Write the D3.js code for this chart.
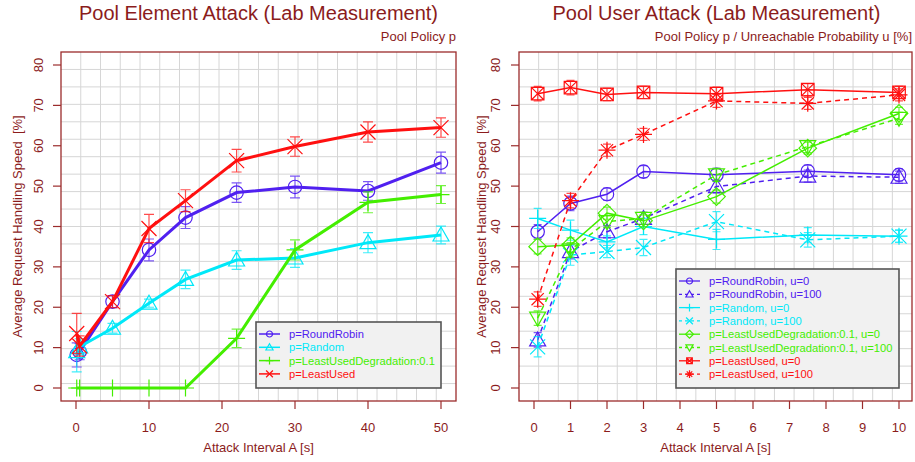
<!DOCTYPE html>
<html lang="en">
<head>
<meta charset="UTF-8">
<title>Pool Attack (Lab Measurement)</title>
<script src="https://d3js.org/d3.v7.min.js"></script>
<style>
  body { margin: 0; background: #fff; }
  svg text { font-family: "Liberation Sans", Arial, sans-serif; fill: #8b1c1c; }
  .title { font-size: 20px; text-anchor: middle; }
  .subtitle { font-size: 13px; text-anchor: end; }
  .tick-label { font-size: 13px; text-anchor: middle; }
  .axis-title { font-size: 13px; text-anchor: middle; }
  .legend text { font-size: 11.2px; }
</style>
</head>
<body>
<svg width="915" height="462"></svg>
<script>
// ---- data: left panel (pool element attack) ----
const elemX = [0.1, 0.5, 5, 10, 15, 22, 30, 40, 50];
const elemRoundRobin = [8.2, 9.0, 21.4, 34.2, 42.2, 48.4, 49.8, 48.8, 55.8];
const elemRoundRobinErr = [3, 2, 1.5, 2.7, 2.7, 2.4, 2.7, 2.3, 2.6];
const elemRandom = [9.0, 10.2, 14.8, 21.0, 26.9, 31.7, 32.2, 36.0, 37.9];
const elemRandomErr = [5, 2, 1.2, 1.0, 2.3, 2.3, 2.3, 2.5, 2.2];
const elemLeastUsedDeg = [0, 0, 0, 0, 0, 12.3, 34.2, 46.0, 47.9];
const elemLeastUsedDegErr = [0, 0, 0, 0, 0, 2.3, 2.5, 2.6, 2.2];
const elemLeastUsed = [13.5, 10.4, 21.4, 39.5, 46.4, 56.3, 59.8, 63.4, 64.5];
const elemLeastUsedErr = [5, 2.5, 1.5, 3.5, 2.7, 2.8, 2.4, 2.5, 2.4];
const elemXTicks = [0, 10, 20, 30, 40, 50];

// ---- data: right panel (pool user attack) ----
const userX = [0.1, 1, 2, 3, 5, 7.5, 10];
const userRR0 = [38.7, 45.7, 48.0, 53.6, 52.8, 53.7, 52.8];
const userRR100 = [11.9, 33.8, 38.7, 42.0, 49.9, 52.5, 52.2];
const userRand0 = [42.0, 39.1, 36.2, 40.0, 36.8, 37.9, 37.6];
const userRand100 = [10.2, 32.9, 33.8, 34.8, 41.2, 36.7, 37.6];
const userLUD0 = [35.0, 35.4, 43.3, 41.4, 47.4, 59.4, 68.0];
const userLUD100 = [17.3, 34.2, 41.2, 42.0, 52.8, 59.8, 66.8];
const userLU0 = [72.9, 74.4, 72.7, 73.2, 72.9, 73.9, 73.2];
const userLU100 = [22.0, 46.4, 58.9, 62.8, 71.1, 70.5, 72.6];
const userErr = [1.8, 1.8, 1.5, 1.5, 1.6, 1.5, 1.5];
const userRandErr = [2.5, 2.5, 1.5, 2.0, 2.5, 1.8, 1.5];
const userXTicks = [0, 1, 2, 3, 4, 5, 6, 7, 8, 9, 10];

const yTicks = [0, 10, 20, 30, 40, 50, 60, 70, 80];

const blue = "#5020f0", cyan = "#00e8f8", green = "#44ee00", red = "#ff1010";
const textColor = "#8b1c1c", boxColor = "#9b2c2c";

const svg = d3.select("svg");

// marker shapes drawn as stroked paths (R pch style), k = scale factor
function markerPath(type, k) {
  const r = 6.7 * k, p = 8.5 * k, x = 7.5 * k, t = 8 * k, q = 6.3 * k, d = 8.8 * k;
  switch (type) {
    case "circle": return `M${-r},0A${r},${r} 0 1,0 ${r},0A${r},${r} 0 1,0 ${-r},0`;
    case "triangle": return `M0,${-t}L${t},${t * 0.75}L${-t},${t * 0.75}Z`;
    case "triangleDown": return `M0,${t}L${t},${-t * 0.75}L${-t},${-t * 0.75}Z`;
    case "plus": return `M${-p},0H${p}M0,${-p}V${p}`;
    case "cross": return `M${-x},${-x}L${x},${x}M${-x},${x}L${x},${-x}`;
    case "diamond": return `M0,${-d}L${d},0L0,${d}L${-d},0Z`;
    case "squareX": return `M${-q},${-q}H${q}V${q}H${-q}ZM${-q},${-q}L${q},${q}M${-q},${q}L${q},${-q}`;
    case "asterisk": {
      const c = p * 0.72;
      return `M${-p},0H${p}M0,${-p}V${p}M${-c},${-c}L${c},${c}M${-c},${c}L${c},${-c}`;
    }
  }
}

function drawPanel(p) {
  const x = d3.scaleLinear().domain(p.xDomain).range(p.xRange);
  const y = d3.scaleLinear().domain([0, 80]).range([388, 65]);
  const g = svg.append("g");
  const [bx0, bx1] = p.box, by0 = 52, by1 = 401;

  // grid: 20 divisions each way
  const gx = d3.range(1, 20).map(i => bx0 + (bx1 - bx0) * i / 20);
  const gy = d3.range(1, 20).map(i => by0 + (by1 - by0) * i / 20);
  g.selectAll(".gx").data(gx).enter().append("line")
    .attr("x1", d => d).attr("x2", d => d).attr("y1", by0).attr("y2", by1)
    .attr("stroke", "#d6d6d6").attr("stroke-width", 1);
  g.selectAll(".gy").data(gy).enter().append("line")
    .attr("x1", bx0).attr("x2", bx1).attr("y1", d => d).attr("y2", d => d)
    .attr("stroke", "#d6d6d6").attr("stroke-width", 1);

  // axes ticks and labels
  g.selectAll(".xt").data(p.xTicks).enter().append("line")
    .attr("x1", d => x(d)).attr("x2", d => x(d)).attr("y1", by1).attr("y2", by1 + 8)
    .attr("stroke", boxColor).attr("stroke-width", 1.2);
  g.selectAll(".xl").data(p.xTicks).enter().append("text")
    .attr("class", "tick-label").attr("x", d => x(d)).attr("y", 432).text(d => d);
  g.selectAll(".yt").data(yTicks).enter().append("line")
    .attr("x1", bx0 - 8).attr("x2", bx0).attr("y1", d => y(d)).attr("y2", d => y(d))
    .attr("stroke", boxColor).attr("stroke-width", 1.2);
  g.selectAll(".yl").data(yTicks).enter().append("text")
    .attr("class", "tick-label")
    .attr("transform", d => `translate(${p.yLabelX},${y(d)}) rotate(-90)`)
    .text(d => d);

  g.append("text").attr("class", "axis-title")
    .attr("x", (bx0 + bx1) / 2).attr("y", 452).text("Attack Interval A [s]");
  g.append("text").attr("class", "axis-title")
    .attr("transform", `translate(${p.yTitleX},${(by0 + by1) / 2}) rotate(-90)`)
    .attr("xml:space", "preserve")
    .text("Average Request Handling Speed  [%]");

  g.append("text").attr("class", "title")
    .attr("x", p.titleX).attr("y", 19.5).text(p.title);
  g.append("text").attr("class", "subtitle")
    .attr("x", bx1).attr("y", 41).text(p.subtitle);

  // series
  const line = d3.line().x(d => x(d[0])).y(d => y(d[1]));
  p.series.forEach(s => {
    const pts = p.xs.map((v, i) => [v, s.values[i], s.err[i]]);
    const sg = g.append("g");
    // error bars
    const cap = p.cap;
    pts.filter(d => d[2] > 0).forEach(d => {
      const xx = x(d[0]), lo = y(d[1] - d[2]), hi = y(d[1] + d[2]);
      sg.append("path")
        .attr("d", `M${xx},${lo}V${hi}M${xx - cap},${lo}H${xx + cap}M${xx - cap},${hi}H${xx + cap}`)
        .attr("fill", "none").attr("stroke", s.color).attr("stroke-width", 1.2)
        .attr("opacity", 0.75);
    });
    sg.append("path").datum(pts).attr("d", line)
      .attr("fill", "none").attr("stroke", s.color).attr("stroke-width", p.lineWidth)
      .attr("stroke-dasharray", s.dash ? "5,4" : null);
    sg.selectAll(".m").data(pts).enter().append("path")
      .attr("transform", d => `translate(${x(d[0])},${y(d[1])})`)
      .attr("d", markerPath(s.marker, 1))
      .attr("fill", "none").attr("stroke", s.color).attr("stroke-width", 1.2);
  });

  // box
  g.append("rect").attr("x", bx0).attr("y", by0)
    .attr("width", bx1 - bx0).attr("height", by1 - by0)
    .attr("fill", "none").attr("stroke", boxColor).attr("stroke-width", 1.3);

  // legend
  const L = p.legend;
  const lg = g.append("g").attr("class", "legend");
  lg.append("rect").attr("x", L.x0).attr("y", L.y0)
    .attr("width", L.x1 - L.x0).attr("height", L.y1 - L.y0)
    .attr("fill", "#f1f1f1").attr("stroke", "#555").attr("stroke-width", 1.6);
  p.series.forEach((s, i) => {
    const yy = L.first + i * L.step;
    lg.append("line").attr("x1", L.x0 + 3).attr("x2", L.x0 + 24)
      .attr("y1", yy).attr("y2", yy)
      .attr("stroke", s.color).attr("stroke-width", p.legendLineWidth)
      .attr("stroke-dasharray", s.dash ? "3,3" : null);
    lg.append("path").attr("transform", `translate(${L.x0 + 13.5},${yy})`)
      .attr("d", markerPath(s.marker, 0.45))
      .attr("fill", "none").attr("stroke", s.color).attr("stroke-width", 1.2);
    lg.append("text").attr("x", L.x0 + 33).attr("y", yy + 4)
      .style("fill", s.color).text(s.name);
  });
}

drawPanel({
  title: "Pool Element Attack (Lab Measurement)",
  subtitle: "Pool Policy p",
  titleX: 258.5,
  xDomain: [0, 50], xRange: [76, 441], box: [61, 456],
  xTicks: elemXTicks, xs: elemX,
  yLabelX: 43, yTitleX: 22,
  lineWidth: 3, legendLineWidth: 1.5, cap: 5,
  series: [
    { name: "p=RoundRobin", values: elemRoundRobin, err: elemRoundRobinErr, color: blue, marker: "circle" },
    { name: "p=Random", values: elemRandom, err: elemRandomErr, color: cyan, marker: "triangle" },
    { name: "p=LeastUsedDegradation:0.1", values: elemLeastUsedDeg, err: elemLeastUsedDegErr, color: green, marker: "plus" },
    { name: "p=LeastUsed", values: elemLeastUsed, err: elemLeastUsedErr, color: red, marker: "cross" }
  ],
  legend: { x0: 256, x1: 441, y0: 322, y1: 388, first: 334, step: 13.3 }
});

drawPanel({
  title: "Pool User Attack (Lab Measurement)",
  subtitle: "Pool Policy p / Unreachable Probability u [%]",
  titleX: 716.5,
  xDomain: [0, 10], xRange: [534, 899], box: [519, 912],
  xTicks: userXTicks, xs: userX,
  yLabelX: 500, yTitleX: 486,
  lineWidth: 1.5, legendLineWidth: 1.3, cap: 4,
  series: [
    { name: "p=RoundRobin, u=0", values: userRR0, err: userErr, color: blue, marker: "circle" },
    { name: "p=RoundRobin, u=100", values: userRR100, err: userErr, color: blue, marker: "triangle", dash: true },
    { name: "p=Random, u=0", values: userRand0, err: userRandErr, color: cyan, marker: "plus" },
    { name: "p=Random, u=100", values: userRand100, err: userRandErr, color: cyan, marker: "cross", dash: true },
    { name: "p=LeastUsedDegradation:0.1, u=0", values: userLUD0, err: userErr, color: green, marker: "diamond" },
    { name: "p=LeastUsedDegradation:0.1, u=100", values: userLUD100, err: userErr, color: green, marker: "triangleDown", dash: true },
    { name: "p=LeastUsed, u=0", values: userLU0, err: userErr, color: red, marker: "squareX" },
    { name: "p=LeastUsed, u=100", values: userLU100, err: userErr, color: red, marker: "asterisk", dash: true }
  ],
  legend: { x0: 676, x1: 899, y0: 269, y1: 388, first: 281, step: 13.3 }
});
</script>
</body>
</html>
